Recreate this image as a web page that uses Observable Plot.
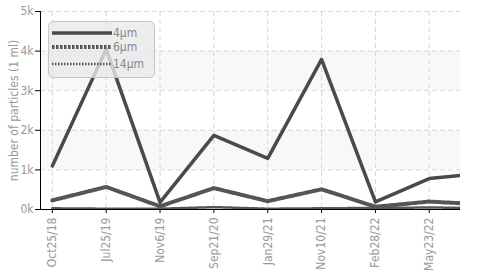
<!DOCTYPE html>
<html><head><meta charset="utf-8">
<script src="https://cdn.jsdelivr.net/npm/d3@7"></script>
<script src="https://cdn.jsdelivr.net/npm/@observablehq/plot@0.6"></script>
<style>
body{margin:0;background:#fff}
#wrap{position:relative;width:492px;height:273px}
.legend{position:absolute;left:48px;top:21px;width:107px;height:57px;background:rgba(232,232,232,0.8);border:1px solid #c8c8c8;border-radius:5px;box-sizing:border-box}
.legend .row{position:absolute;left:3px;height:14px;display:flex;align-items:center;font:12px "DejaVu Sans Condensed","DejaVu Sans",sans-serif;font-stretch:condensed;color:#888}
.legend svg{display:block;margin-right:1px}
</style>
</head><body><div id="wrap"></div>
<script>
const dates = ["Oct25/18","Jul25/19","Nov6/19","Sep21/20","Jan29/21","Nov10/21","Feb28/22","May23/22"];
const idx = [0,1,2,3,4,5,6,7,8];
const s4 = [1100,4050,180,1870,1290,3790,190,780,920];
const s6 = [230,570,80,540,210,510,70,200,130];
const s14 = [30,20,20,60,20,30,40,50,40];
const seriesNames = ["4\u00b5m","6\u00b5m","14\u00b5m"];
const yTicks = [0,1000,2000,3000,4000,5000];
const bands = [[1000,2000],[3000,4000]];
const xDomain = [-0.22, 7.58];
const yLabel = "number of particles (1 ml)";

const styles = [
  {strokeWidth: 3.5, dash: null, color: "#4a4a4a"},
  {strokeWidth: 4, dash: "2.5,1.5", color: "#555"},
  {strokeWidth: 2.5, dash: "1.5,1.5", color: "#555"}
];
const seriesVals = [s4, s6, s14];

const lineMarks = seriesVals.map((vals, k) => Plot.line(idx, {
  x: i => i, y: i => vals[i], stroke: styles[k].color,
  strokeWidth: styles[k].strokeWidth, strokeDasharray: styles[k].dash,
  clip: true
}));

const font = '"DejaVu Sans Condensed","DejaVu Sans",sans-serif';
const chart = Plot.plot({
  width: 492, height: 273,
  marginLeft: 40, marginRight: 32, marginTop: 11, marginBottom: 64,
  style: {fontFamily: font, fontStretch: "condensed", fontSize: "12px", color: "#999", background: "#fff", overflow: "visible"},
  x: {domain: xDomain},
  y: {domain: [0, 5000]},
  marks: [
    Plot.rect(bands, {y1: d => d[0], y2: d => d[1], fill: "#f8f8f8"}),
    Plot.gridX(dates.map((d, i) => i), {stroke: "#d8d8d8", strokeOpacity: 1, strokeDasharray: "5,3"}),
    Plot.gridY(yTicks, {stroke: "#d8d8d8", strokeOpacity: 1, strokeDasharray: "5,3"}),
    ...lineMarks,
    Plot.ruleY([0], {stroke: "#000", strokeWidth: 1}),
    Plot.ruleX([xDomain[0]], {stroke: "#000", strokeWidth: 1}),
    Plot.axisY(yTicks, {tickFormat: d => (d / 1000) + "k", tickSize: 5, tickPadding: 2, stroke: "#000", label: null, fill: "#999"}),
    Plot.text([yLabel], {frameAnchor: "left", dx: -26, rotate: -90, textAnchor: "middle", text: d => d, fill: "#999", fontSize: 12}),
    Plot.axisX(dates.map((d, i) => i), {tickFormat: i => dates[i], tickSize: 4, tickPadding: 4, tickRotate: -90, stroke: "#000", label: null, fill: "#999"})
  ]
});
const wrap = document.getElementById("wrap");
wrap.appendChild(chart);

const legend = document.createElement("div");
legend.className = "legend";
const rowTops = [4, 18, 35];
seriesNames.forEach((name, k) => {
  const row = document.createElement("div");
  row.className = "row";
  row.style.top = rowTops[k] + "px";
  const dash = styles[k].dash ? `stroke-dasharray="${styles[k].dash}"` : "";
  row.innerHTML = `<svg width="60" height="14"><line x1="0" x2="60" y1="7" y2="7" stroke="${styles[k].color}" stroke-width="${styles[k].strokeWidth}" ${dash}/></svg><span>${name}</span>`;
  legend.appendChild(row);
});
wrap.appendChild(legend);
</script>
</body></html>
